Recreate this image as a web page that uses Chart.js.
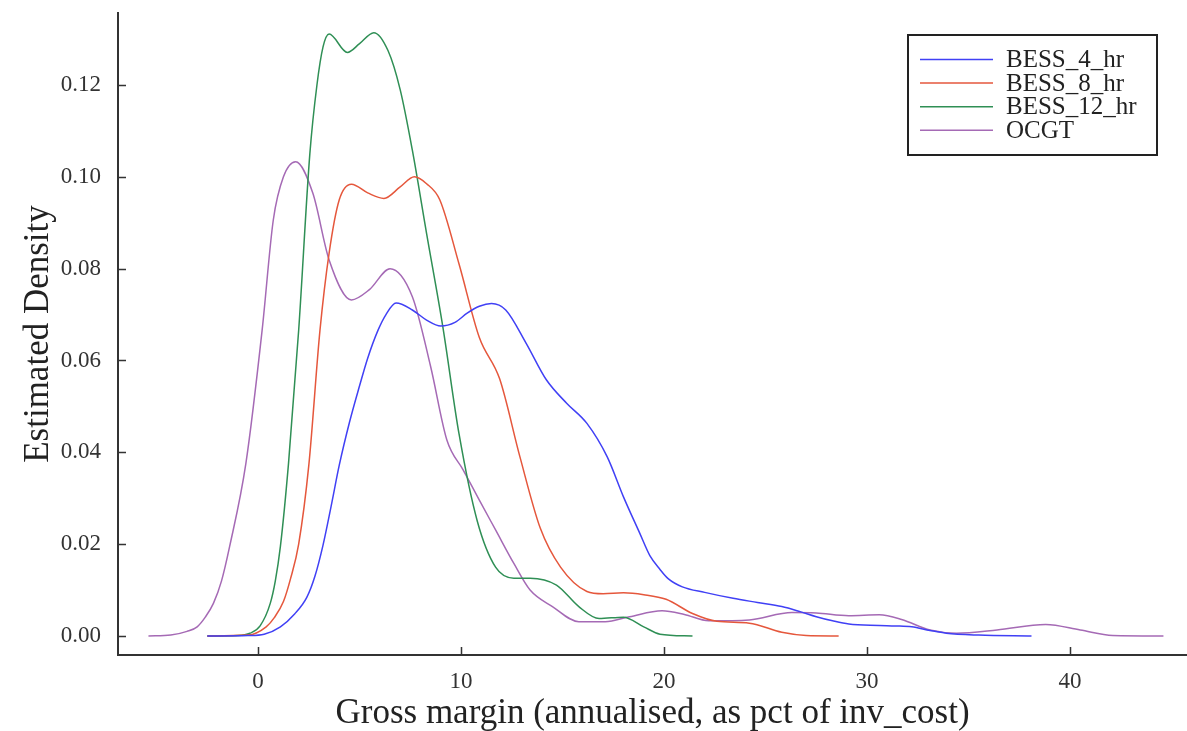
<!DOCTYPE html>
<html>
<head>
<meta charset="utf-8">
<title>Gross margin density</title>
<script src="https://cdn.jsdelivr.net/npm/chart.js@4.4.1/dist/chart.umd.min.js"></script>
<style>
    html, body { margin: 0; padding: 0; background: #fff; }
    #wrap { width: 1187px; height: 731px; }
</style>
</head>
<body>
<div id="wrap"><canvas id="chartDensity"></canvas></div>
<script>
// Series
const seriesNames = ['BESS_4_hr', 'BESS_8_hr', 'BESS_12_hr', 'OCGT'];
const seriesColors = ['#4040f5', '#e5573c', '#2f8f55', '#a56ab5'];

// BESS_4_hr
const bess4X = [-2.5, -0.5, 0.3, 1.1, 1.8, 2.4, 2.8, 3.2, 3.6, 4.0, 4.5, 5.0, 5.4, 5.9, 6.3, 6.8, 7.6, 8.3, 9.0, 9.7, 10.3, 10.9, 11.5, 12.2, 13.2, 14.2, 15.2, 16.2, 17.2, 18.0, 18.8, 19.3, 19.8, 20.2, 20.9, 22.0, 23.4, 24.6, 25.8, 26.7, 27.5, 28.3, 29.1, 30.6, 31.4, 32.2, 33.1, 33.9, 35.5, 38.1];
const bess4Y = [0, 0.0001, 0.0004, 0.002, 0.0048, 0.0084, 0.0130, 0.0198, 0.0283, 0.0372, 0.0465, 0.0545, 0.0605, 0.0665, 0.07, 0.0725, 0.071, 0.0688, 0.0675, 0.0683, 0.0703, 0.0718, 0.0724, 0.071, 0.0638, 0.0558, 0.0507, 0.0463, 0.039, 0.0303, 0.0224, 0.0175, 0.0145, 0.0125, 0.0107, 0.0095, 0.0082, 0.0073, 0.0064, 0.0053, 0.0042, 0.0033, 0.0026, 0.0023, 0.0022, 0.002, 0.0012, 0.0006, 0.0002, 0];

// BESS_8_hr
const bess8X = [-2.5, -0.5, 0.4, 0.8, 1.25, 1.6, 2.0, 2.5, 3.05, 3.5, 4.0, 4.6, 5.4, 6.2, 7.0, 7.7, 8.3, 8.95, 9.9, 10.9, 11.9, 12.9, 13.9, 14.9, 16.2, 17.0, 18.0, 19.0, 20.1, 21.4, 22.6, 24.2, 25.8, 27.0, 28.6];
const bess8Y = [0, 0.0002, 0.002, 0.0040, 0.0075, 0.0125, 0.0200, 0.0372, 0.0666, 0.0834, 0.095, 0.0984, 0.0965, 0.0953, 0.0978, 0.1, 0.0985, 0.095, 0.081, 0.065, 0.056, 0.039, 0.0235, 0.015, 0.0097, 0.0092, 0.0094, 0.009, 0.008, 0.0049, 0.0032, 0.0028, 0.0008, 0.0001, 0];

// BESS_12_hr
const bess12X = [-2.5, -1.0, -0.4, 0.1, 0.6, 0.85, 1.1, 1.5, 2.0, 2.55, 2.9, 3.2, 3.5, 4.4, 5.0, 5.7, 6.4, 7.0, 7.6, 8.3, 9.1, 9.9, 10.8, 11.7, 12.6, 13.4, 14.7, 15.8, 16.8, 18.0, 19.0, 19.8, 21.4];
const bess12Y = [0, 0.0001, 0.0006, 0.0022, 0.0071, 0.012, 0.0195, 0.0376, 0.0666, 0.105, 0.12, 0.1283, 0.1311, 0.1271, 0.129, 0.1314, 0.1275, 0.119, 0.1058, 0.0877, 0.0674, 0.044, 0.025, 0.015, 0.0126, 0.0126, 0.0111, 0.0064, 0.0038, 0.0041, 0.002, 0.0004, 0];

// OCGT
const ocgtX = [-5.4, -4.3, -3.5, -3.0, -2.6, -2.2, -1.8, -1.4, -0.6, 0.2, 0.75, 1.25, 1.85, 2.7, 3.5, 4.6, 5.5, 6.5, 7.6, 8.5, 9.3, 10.1, 10.9, 11.7, 12.6, 13.4, 14.5, 15.8, 17.1, 18.3, 19.9, 21.0, 22.2, 24.2, 26.3, 27.5, 29.1, 30.6, 31.7, 33.1, 34.4, 36.4, 38.8, 40.5, 42.1, 44.6];
const ocgtY = [0, 0.0002, 0.001, 0.002, 0.0041, 0.0071, 0.012, 0.0195, 0.0376, 0.0666, 0.0906, 0.1, 0.1033, 0.0964, 0.0819, 0.0732, 0.0755, 0.08, 0.0739, 0.0587, 0.0427, 0.0362, 0.0296, 0.0231, 0.0158, 0.01, 0.0064, 0.0031, 0.0031, 0.0042, 0.0055, 0.0047, 0.0033, 0.0035, 0.0051, 0.005, 0.0044, 0.0046, 0.0036, 0.0013, 0.0006, 0.0013, 0.0025, 0.0013, 0.0001, 0];

// Axes
const xTicks = [0, 10, 20, 30, 40];
const yTicks = [0, 0.02, 0.04, 0.06, 0.08, 0.10, 0.12];

const seriesX = [bess4X, bess8X, bess12X, ocgtX];
const seriesY = [bess4Y, bess8Y, bess12Y, ocgtY];

const serif = '"Liberation Serif", "DejaVu Serif", serif';
Chart.defaults.font.family = serif;

// ticks pointing into the plot, like the original
const innerTicks = {
    id: 'innerTicks',
    afterDraw(chart) {
        const { ctx, chartArea, scales } = chart;
        ctx.save();
        ctx.strokeStyle = '#333';
        ctx.lineWidth = 1.5;
        ctx.beginPath();
        scales.x.ticks.forEach(t => {
            const px = Math.round(scales.x.getPixelForValue(t.value)) + 0.5;
            ctx.moveTo(px, chartArea.bottom);
            ctx.lineTo(px, chartArea.bottom - 8);
        });
        scales.y.ticks.forEach(t => {
            const py = Math.round(scales.y.getPixelForValue(t.value)) + 0.5;
            ctx.moveTo(chartArea.left, py);
            ctx.lineTo(chartArea.left + 8, py);
        });
        ctx.stroke();
        ctx.restore();
    }
};

// framed legend in the top right corner
const boxLegend = {
    id: 'boxLegend',
    afterDraw(chart) {
        const { ctx, chartArea } = chart;
        const w = 249, h = 120;
        const left = chartArea.right - 30 - w;
        const top = chartArea.top + 22;
        ctx.save();
        ctx.fillStyle = '#fff';
        ctx.fillRect(left, top, w, h);
        ctx.strokeStyle = '#222';
        ctx.lineWidth = 2;
        ctx.strokeRect(left, top, w, h);
        ctx.font = '25px ' + serif;
        ctx.textBaseline = 'middle';
        chart.data.datasets.forEach((ds, i) => {
            const y = top + 24.5 + i * 23.6;
            ctx.strokeStyle = ds.borderColor;
            ctx.lineWidth = 1.5;
            ctx.beginPath();
            ctx.moveTo(left + 12, y);
            ctx.lineTo(left + 85, y);
            ctx.stroke();
            ctx.fillStyle = '#222';
            ctx.fillText(ds.label, left + 98, y + 1);
        });
        ctx.restore();
    }
};

const ctx = document.getElementById('chartDensity').getContext('2d');

new Chart(ctx, {
    type: 'line',
    data: {
        datasets: seriesNames.map((name, i) => ({
            label: name,
            data: seriesX[i].map((x, j) => ({ x: x, y: seriesY[i][j] })),
            borderColor: seriesColors[i],
            borderWidth: 1.5,
            pointRadius: 0,
            fill: false,
            cubicInterpolationMode: 'monotone'
        }))
    },
    options: {
        responsive: true,
        maintainAspectRatio: false,
        animation: false,
        layout: { padding: { top: 13, right: 0, bottom: 0, left: 0 } },
        plugins: {
            legend: { display: false },
            tooltip: { enabled: false }
        },
        scales: {
            x: {
                type: 'linear',
                min: -6.9,
                max: 45.76,
                afterFit: s => {
                    s.height = 76;
                    s.paddingLeft = 0;
                    s.paddingRight = 0;
                },
                afterBuildTicks: s => { s.ticks = xTicks.map(v => ({ value: v })); },
                grid: { display: false },
                border: { display: true, color: '#333', width: 2 },
                ticks: {
                    padding: 5,
                    color: '#333',
                    maxRotation: 0,
                    font: { size: 23 },
                    callback: v => String(v)
                },
                title: {
                    display: true,
                    text: 'Gross margin (annualised, as pct of inv_cost)',
                    color: '#222',
                    font: { size: 35, lineHeight: 1 },
                    padding: { top: 0, bottom: 0 }
                }
            },
            y: {
                type: 'linear',
                min: -0.00414,
                max: 0.13568,
                afterFit: s => {
                    s.width = 118;
                    s.paddingTop = 0;
                    s.paddingBottom = 0;
                },
                afterBuildTicks: s => { s.ticks = yTicks.map(v => ({ value: v })); },
                grid: { display: false },
                border: { display: true, color: '#333', width: 2 },
                ticks: {
                    padding: 9,
                    color: '#333',
                    font: { size: 23 },
                    callback: v => v.toFixed(2)
                },
                title: {
                    display: true,
                    text: 'Estimated Density',
                    color: '#222',
                    font: { size: 35, lineHeight: 1 },
                    padding: { top: 21, bottom: 0 }
                }
            }
        }
    },
    plugins: [innerTicks, boxLegend]
});
</script>
</body>
</html>
